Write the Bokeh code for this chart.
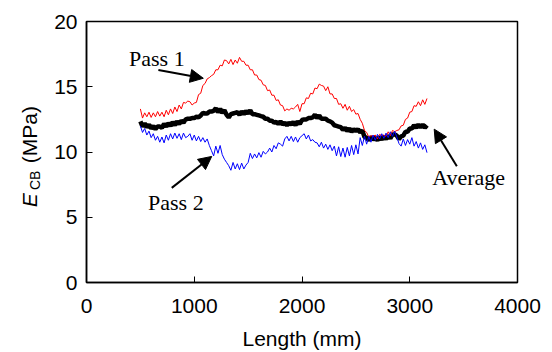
import math
from bokeh.plotting import figure
from bokeh.layouts import row
from bokeh.models import Range1d, Label, Arrow, NormalHead, FixedTicker
from bokeh.core.properties import value
from bokeh.embed import file_html
from bokeh.resources import INLINE

# sampling positions along the length (mm)
length_mm = list(range(500, 3180, 20))

pass1 = [
    13.3, 12.6, 13.0, 12.7, 13.05, 12.65, 13.0, 12.7, 13.1, 12.75,
    13.05, 12.7, 13.2, 12.85, 13.3, 12.95, 13.45, 13.1, 13.6, 13.3,
    13.8, 13.75, 13.9, 13.85, 13.6, 13.75, 13.8, 14.4, 14.5, 15.1,
    15.25, 15.6, 15.7, 15.85, 15.95, 16.3, 16.3, 16.65, 16.6, 17.05,
    17.0, 16.75, 17.1, 16.7, 17.05, 16.8, 17.25, 16.95, 16.95, 16.65,
    16.65, 16.3, 16.3, 15.9, 15.9, 15.55, 15.5, 15.15, 15.1, 14.7,
    14.75, 14.35, 14.35, 13.95, 14.0, 13.6, 13.55, 13.15, 13.3, 13.2,
    13.35, 13.3, 13.45, 13.65, 13.1, 13.7, 13.7, 14.15, 14.1, 14.5,
    14.45, 14.9, 14.85, 15.2, 15.1, 15.05, 14.7, 15.0, 14.45, 14.45,
    14.1, 14.1, 13.65, 13.7, 13.35, 13.65, 13.2, 13.5, 13.1, 13.25,
    12.9, 12.95, 12.5, 12.2, 11.65, 11.5, 11.15, 11.25, 11.2, 11.3,
    11.0, 11.35, 11.25, 11.3, 11.2, 11.55, 11.25, 11.65, 11.55, 11.65,
    11.7, 12.0, 12.05, 12.5, 12.6, 13.05, 13.1, 13.55, 13.5, 13.85,
    13.55, 14.0, 13.65, 14.1,
]

pass2 = [
    12.0, 11.5, 11.8, 11.3, 11.6, 11.1, 11.4, 10.9, 11.2, 10.75,
    11.15, 10.7, 11.3, 10.9, 11.4, 11.0, 11.45, 11.05, 11.4, 10.95,
    11.45, 11.1, 11.2, 11.4, 10.9, 11.3, 10.85, 11.2, 10.8, 11.1,
    10.75, 11.0, 10.5, 10.1, 9.7, 10.45, 9.9, 10.5, 9.8, 9.45,
    9.2, 8.95, 8.6, 9.2, 8.7, 9.1, 8.65, 9.15, 8.7, 9.0,
    9.2, 9.9, 9.5, 9.85, 9.55, 9.95, 9.6, 10.05, 9.85, 10.0,
    10.3, 10.0, 10.5, 10.25, 10.7, 10.6, 10.45, 11.0, 11.2, 10.85,
    11.2, 10.8, 11.15, 10.75, 11.1, 11.25, 11.4, 11.0, 11.3, 10.85,
    10.95, 10.75, 10.7, 10.4, 10.75, 10.3, 10.6, 10.2, 10.55, 10.1,
    10.45, 9.7, 10.4, 9.65, 10.3, 9.6, 10.35, 9.7, 10.5, 9.8,
    10.55, 9.85, 11.1, 10.5, 11.2, 10.6, 11.2, 10.75, 11.3, 10.9,
    11.35, 11.0, 11.4, 11.05, 11.45, 11.1, 11.55, 11.2, 11.6, 11.15,
    10.65, 10.45, 11.0, 10.5, 10.95, 10.6, 11.1, 10.45, 10.8, 10.3,
    10.7, 10.2, 10.55, 9.95,
]

average = [
    12.35, 11.95, 12.2, 11.9, 12.1, 11.8, 12.0, 11.75, 11.95, 11.95,
    11.85, 12.15, 11.95, 12.2, 12.0, 12.3, 12.05, 12.35, 12.15, 12.4,
    12.25, 12.5, 12.55, 12.55, 12.6, 12.6, 12.7, 12.65, 12.8, 13.0,
    12.95, 12.95, 13.1, 13.1, 13.15, 13.35, 13.05, 13.3, 13.0, 13.2,
    12.85, 12.65, 12.9, 12.95, 13.0, 13.05, 12.85, 13.1, 12.9, 13.15,
    12.95, 13.2, 12.9, 12.9, 12.85, 12.8, 12.75, 12.7, 12.55, 12.55,
    12.4, 12.4, 12.25, 12.3, 12.15, 12.35, 12.1, 12.25, 12.05, 12.25,
    12.1, 12.3, 12.05, 12.35, 12.15, 12.45, 12.5, 12.5, 12.6, 12.6,
    12.65, 12.85, 12.6, 12.8, 12.55, 12.55, 12.55, 12.4, 12.35, 12.25,
    12.05, 12.0, 11.95, 11.9, 11.7, 11.85, 11.6, 11.8, 11.55, 11.75,
    11.6, 11.75, 11.5, 11.65, 11.15, 11.1, 10.9, 11.15, 10.95, 11.1,
    10.9, 11.15, 10.95, 11.2, 11.0, 11.25, 11.05, 11.35, 11.35, 11.25,
    11.0, 11.2, 11.25, 11.55, 11.55, 11.8, 11.8, 12.05, 11.85, 12.1,
    11.9, 12.1, 11.85, 12.05,
]

x_ticks = [0, 1000, 2000, 3000, 4000]
y_ticks = [0, 5, 10, 15, 20]

SANS = "Liberation Sans"
SERIF = "Liberation Serif"

# ---- narrow panel holding the y-axis title (italic E, subscript CB) ----
# its frame gets aligned to the main frame (pixels 21..283), so the range is
# expressed in "352 - pixel" coordinates over that span
lab = figure(width=48, height=352, output_backend="svg", toolbar_location=None,
             x_range=Range1d(0, 48), y_range=Range1d(69, 331),
             x_axis_type=None, y_axis_type=None,
             min_border_left=0, min_border_right=0, min_border_top=21, min_border_bottom=69)
lab.outline_line_color = None
lab.grid.visible = False
lab.background_fill_color = "white"
lab.border_fill_color = "white"
ang = math.pi / 2
lab.text(x=[28.6], y=[151.5], text=["E"], angle=ang, text_font=value(SANS),
         text_font_style="italic", text_font_size="21px", text_align="center",
         text_baseline="middle", text_color="black")
lab.text(x=[34.3], y=[171.5], text=["CB"], angle=ang, text_font=value(SANS),
         text_font_size="14px", text_align="center",
         text_baseline="middle", text_color="black")
lab.text(x=[28.6], y=[217.5], text=["(MPa)"], angle=ang, text_font=value(SANS),
         text_font_size="21px", text_align="center",
         text_baseline="middle", text_color="black")

# ---- main plot ----
p = figure(width=504, height=352, output_backend="svg", toolbar_location=None,
           x_range=Range1d(0, 4000), y_range=Range1d(0, 20),
           min_border_left=38, min_border_right=35, min_border_top=21,
           min_border_bottom=69)
p.background_fill_color = "white"
p.border_fill_color = "white"
p.outline_line_color = "black"
p.outline_line_width = 1.5
p.grid.visible = False

for ax in (p.xaxis[0], p.yaxis[0]):
    ax.axis_line_color = "black"
    ax.axis_line_width = 1.5
    ax.major_tick_in = 6
    ax.major_tick_out = 0
    ax.major_tick_line_color = "black"
    ax.minor_tick_line_color = None
    ax.major_label_text_font = SANS
    ax.major_label_text_font_size = "21px"
    ax.major_label_text_color = "black"
    ax.axis_label_text_font = SANS
    ax.axis_label_text_font_size = "21px"
    ax.axis_label_text_font_style = "normal"
    ax.axis_label_text_color = "black"

p.xaxis.ticker = FixedTicker(ticks=x_ticks)
p.yaxis.ticker = FixedTicker(ticks=y_ticks)
p.xaxis.major_label_standoff = 16
p.yaxis.major_label_standoff = 9
p.xaxis.axis_label = "Length (mm)"
p.xaxis.axis_label_standoff = 11

assert len(length_mm) == len(pass1) == len(pass2) == len(average)

p.line(length_mm, average, line_color="black", line_width=4.5)
p.line(length_mm, pass1, line_color="#ff0000", line_width=1)
p.line(length_mm, pass2, line_color="#0000ff", line_width=1)

# annotations
for txt, lx, ly in [("Pass 1", 395, 17.18), ("Pass 2", 571, 6.13), ("Average", 3208, 8.02)]:
    p.add_layout(Label(x=lx, y=ly, text=txt, text_font=SERIF, text_font_size="22px",
                       text_align="left", text_baseline="middle", text_color="black"))

for xs, ys, xe, ye in [(667, 16.28, 1084, 15.65), (791, 7.25, 1162, 9.66),
                       (3437, 8.9, 3227, 11.75)]:
    p.add_layout(Arrow(end=NormalHead(size=13, fill_color="black", line_color="black"),
                       x_start=xs, y_start=ys, x_end=xe, y_end=ye,
                       line_width=2, line_color="black"))

layout = row(lab, p)
open("out.html", "w").write(file_html(layout, INLINE))
